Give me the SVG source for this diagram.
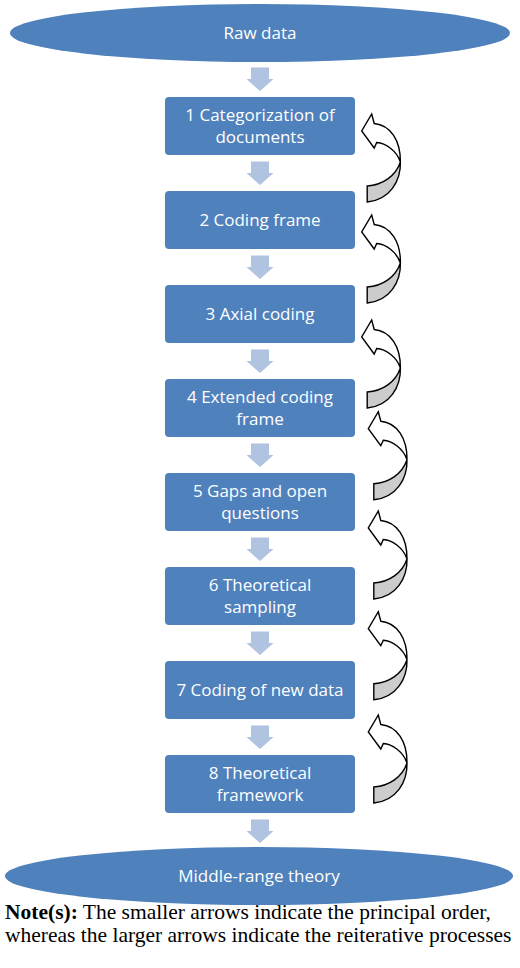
<svg xmlns="http://www.w3.org/2000/svg" xmlns:xlink="http://www.w3.org/1999/xlink" width="520" height="968" viewBox="0 0 520 968">
<style>
.node{fill:#4f81bd;}
.lbl{font-family:"Open Sans","Liberation Sans",sans-serif;font-size:17px;fill:#ffffff;text-anchor:middle;}
.step{fill:#b0c3e0;}
.front{fill:#ffffff;stroke:#000000;stroke-width:1.4;stroke-linejoin:miter;}
.back{fill:#cccccc;stroke:#000000;stroke-width:1.4;stroke-linejoin:miter;}
.note{font-family:"Liberation Serif","Times New Roman",serif;font-size:21.5px;fill:#000000;}
</style>
<defs>
<path id="down" class="step" d="M-9,0 H9 V11.5 H13.5 L0,23.5 L-13.5,11.5 H-9 Z"/>
<g id="loop">
<path class="back" d="M28.7,48 C29.2,67 18,86 -4.5,88 L-4.5,72 C11,71 24,62 28.7,48 Z"/>
<path class="front" d="M2.5,9.5 L0,0 L-10,17 L2.5,34 L5,28.5 C14,29 25,37 28.7,48 C29,27 19,11 2.5,9.5 Z"/>
</g>
</defs>
<g id="connectors">
<use xlink:href="#down" x="260" y="67.5"/>
<use xlink:href="#down" x="260" y="161.5"/>
<use xlink:href="#down" x="260" y="255.5"/>
<use xlink:href="#down" x="260" y="349.5"/>
<use xlink:href="#down" x="260" y="443.5"/>
<use xlink:href="#down" x="260" y="537.5"/>
<use xlink:href="#down" x="260" y="631.5"/>
<use xlink:href="#down" x="260" y="725.5"/>
<use xlink:href="#down" x="260" y="819.5"/>
<use xlink:href="#loop" x="371.7" y="114"/>
<use xlink:href="#loop" x="371.7" y="215"/>
<use xlink:href="#loop" x="371.7" y="320"/>
<use xlink:href="#loop" x="378.3" y="411.7"/>
<use xlink:href="#loop" x="378.3" y="511"/>
<use xlink:href="#loop" x="378.3" y="611.7"/>
<use xlink:href="#loop" x="378.3" y="715"/>
</g>
<g id="raw">
<ellipse class="node" cx="260" cy="33" rx="250" ry="29"/>
<text class="lbl" x="260" y="39">Raw data</text>
</g>
<g id="n1">
<rect class="node" x="165" y="97" width="190" height="58" rx="4"/>
<text class="lbl" x="260" y="121">1 Categorization of</text>
<text class="lbl" x="260" y="142.5">documents</text>
</g>
<g id="n2">
<rect class="node" x="165" y="191" width="190" height="58" rx="4"/>
<text class="lbl" x="260" y="226">2 Coding frame</text>
</g>
<g id="n3">
<rect class="node" x="165" y="285" width="190" height="58" rx="4"/>
<text class="lbl" x="260" y="320">3 Axial coding</text>
</g>
<g id="n4">
<rect class="node" x="165" y="379" width="190" height="58" rx="4"/>
<text class="lbl" x="260" y="403">4 Extended coding</text>
<text class="lbl" x="260" y="424.5">frame</text>
</g>
<g id="n5">
<rect class="node" x="165" y="473" width="190" height="58" rx="4"/>
<text class="lbl" x="260" y="497">5 Gaps and open</text>
<text class="lbl" x="260" y="518.5">questions</text>
</g>
<g id="n6">
<rect class="node" x="165" y="567" width="190" height="58" rx="4"/>
<text class="lbl" x="260" y="591">6 Theoretical</text>
<text class="lbl" x="260" y="612.5">sampling</text>
</g>
<g id="n7">
<rect class="node" x="165" y="661" width="190" height="58" rx="4"/>
<text class="lbl" x="260" y="696">7 Coding of new data</text>
</g>
<g id="n8">
<rect class="node" x="165" y="755" width="190" height="58" rx="4"/>
<text class="lbl" x="260" y="779">8 Theoretical</text>
<text class="lbl" x="260" y="800.5">framework</text>
</g>
<g id="theory">
<ellipse class="node" cx="259" cy="876" rx="254" ry="29"/>
<text class="lbl" x="259" y="882">Middle-range theory</text>
</g>
<g id="note">
<text class="note" x="5" y="918.5"><tspan font-weight="bold">Note(s):</tspan> The smaller arrows indicate the principal order,</text>
<text class="note" x="5" y="941.5">whereas the larger arrows indicate the reiterative processes</text>
</g>
</svg>
